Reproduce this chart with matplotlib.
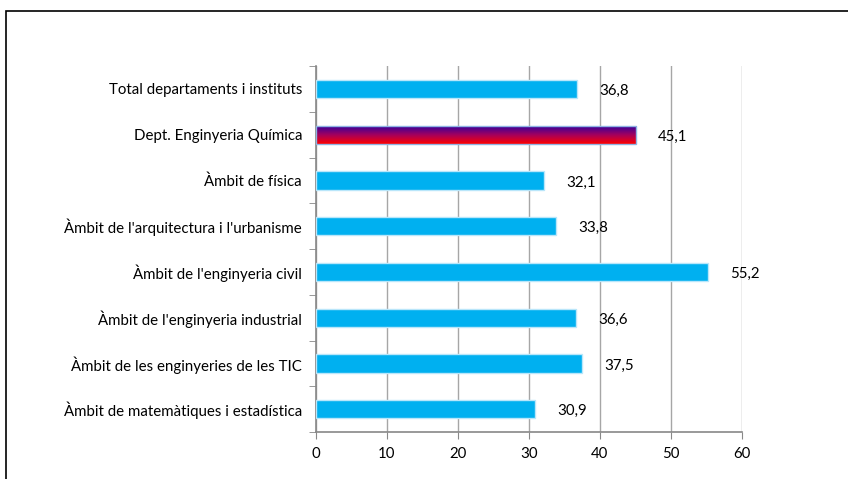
import numpy as np
import matplotlib.pyplot as plt
from matplotlib.patches import Rectangle
from matplotlib.colors import LinearSegmentedColormap

# data, top to bottom as in the chart
categories = [
    "Total departaments i instituts",
    "Dept. Enginyeria Química",
    "Àmbit de física",
    "Àmbit de l'arquitectura i l'urbanisme",
    "Àmbit de l'enginyeria civil",
    "Àmbit de l'enginyeria industrial",
    "Àmbit de les enginyeries de les TIC",
    "Àmbit de matemàtiques i estadística",
]
values = [36.8, 45.1, 32.1, 33.8, 55.2, 36.6, 37.5, 30.9]
highlight = "Dept. Enginyeria Química"
xticks = [0, 10, 20, 30, 40, 50, 60]

plt.rcParams['font.family'] = ['Lato', 'DejaVu Sans']

fig = plt.figure(figsize=(8.48, 4.79), dpi=100)
ax = fig.add_axes([0.3726, 0.098, 0.5024, 0.764])

# outer frame of the chart area (runs off the right and bottom)
fig.patches.append(Rectangle((6 / 848, -0.1), 1.2, 1 - 10.5 / 479 + 0.1,
                             transform=fig.transFigure, fill=False,
                             edgecolor='black', linewidth=1.2))

n = len(categories)
ypos = np.arange(n)[::-1]
bar_h = 0.4
grad = np.linspace(0, 1, 100).reshape(-1, 1)
cmap = LinearSegmentedColormap.from_list('g', ['#ff0000', '#a00060', '#2a00a0'])

for y, v, c in zip(ypos, values, categories):
    if c == highlight:
        bar = ax.barh(y, v, height=bar_h, color='none', edgecolor='#8fb4e3',
                      linewidth=1, zorder=3)[0]
        im = ax.imshow(grad, cmap=cmap, aspect='auto', origin='lower',
                       extent=[0, v, y - bar_h / 2, y + bar_h / 2], zorder=2.5)
        im.set_clip_path(bar)
    else:
        ax.barh(y, v, height=bar_h, color='#00b0f0', edgecolor='#b9e6fa',
                linewidth=1, zorder=3)
    # value label, comma as decimal sign
    ax.annotate(str(v).replace('.', ','), (v, y), xytext=(22, -2),
                textcoords='offset pixels', va='center', ha='left',
                fontsize=10.8)

ax.set_xlim(0, 60)
ax.set_ylim(-0.5, n - 0.5)
ax.set_xticks(xticks)
ax.set_yticks(ypos)
ax.set_yticklabels(categories, fontsize=10.8)
ax.tick_params(axis='y', length=0, pad=10)
ax.set_yticks(np.arange(-0.5, n, 1), minor=True)
ax.tick_params(axis='y', which='minor', length=5, color='#888888')
ax.tick_params(axis='x', length=5, color='#888888', labelsize=10.8, pad=6)
ax.grid(axis='x', color='#a6a6a6', linewidth=1, zorder=0)
ax.set_axisbelow(True)
for s in ['top', 'right']:
    ax.spines[s].set_visible(False)
for s in ['left', 'bottom']:
    ax.spines[s].set_color('#888888')
    ax.spines[s].set_linewidth(1.2)

fig.savefig('out.png', dpi=100)
